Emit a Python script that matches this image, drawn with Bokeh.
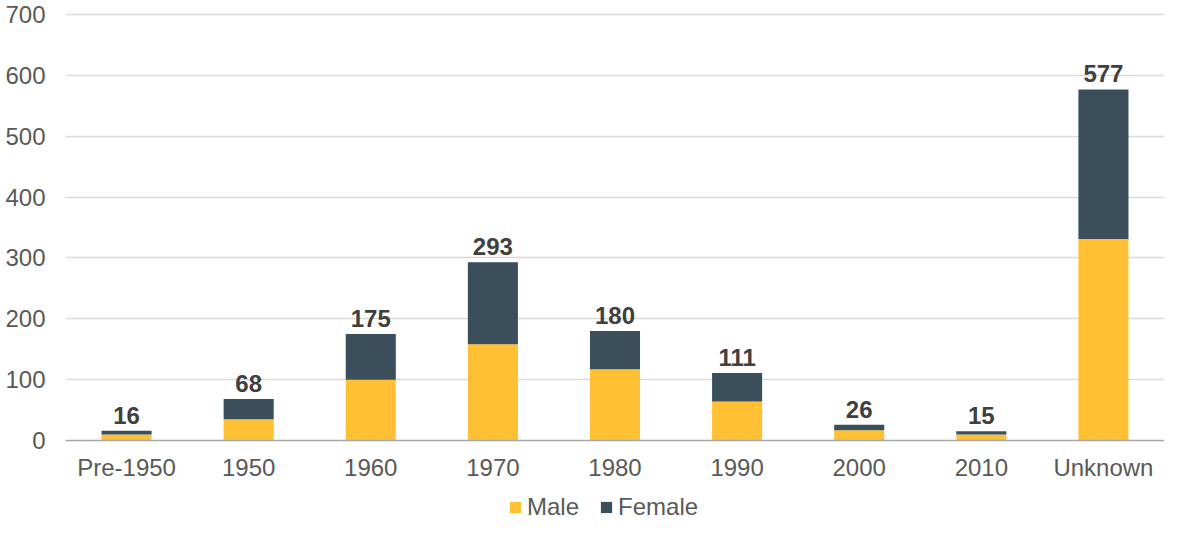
from bokeh.plotting import figure
from bokeh.layouts import column
from bokeh.models import (ColumnDataSource, FixedTicker, Legend, LegendItem,
                          Range1d, LabelSet, FactorRange)
from bokeh.core.properties import value
from bokeh.embed import file_html
from bokeh.resources import INLINE

categories = ["Pre-1950", "1950", "1960", "1970", "1980", "1990", "2000", "2010", "Unknown"]
male = [10, 35, 100, 158, 117, 64, 17, 10, 331]
female = [6, 33, 75, 135, 63, 47, 9, 5, 246]
totals = [16, 68, 175, 293, 180, 111, 26, 15, 577]
y_ticks = [0, 100, 200, 300, 400, 500, 600, 700]

YELLOW = "#FFC133"
DARK = "#3A4F5B"
FONT = "Liberation Sans"
GREY = "#595959"

src = ColumnDataSource(dict(cat=categories, Male=male, Female=female, total=totals))

p = figure(x_range=categories, width=1164, height=494, output_backend="svg",
           toolbar_location=None, min_border_left=65, min_border_right=0,
           min_border_top=11, min_border_bottom=54, outline_line_color=None)
p.y_range = Range1d(0, 705)
p.x_range.range_padding = 0

r = p.vbar_stack(["Male", "Female"], x="cat", width=0.41, source=src,
                 color=[YELLOW, DARK], line_color=None)

labels = LabelSet(x="cat", y="total", text="total", source=src, y_offset=7,
                  text_align="center", text_baseline="alphabetic",
                  text_font=value(FONT), text_font_style="bold",
                  text_font_size=value("24px"), text_color="#404040")
p.add_layout(labels)

p.xgrid.grid_line_color = None
p.ygrid.grid_line_color = "#D9D9D9"
p.ygrid.grid_line_width = 1.3
p.yaxis.ticker = FixedTicker(ticks=y_ticks)
p.ygrid.ticker = FixedTicker(ticks=y_ticks)

p.yaxis.axis_line_color = None
p.yaxis.major_tick_line_color = None
p.yaxis.minor_tick_line_color = None
p.yaxis.major_tick_out = 0
p.yaxis.major_tick_in = 0
p.yaxis.major_label_standoff = 20
p.yaxis.major_label_text_font = FONT
p.yaxis.major_label_text_font_size = "24px"
p.yaxis.major_label_text_color = GREY

p.xaxis.axis_line_color = "#A6A6A6"
p.xaxis.axis_line_width = 1.5
p.xaxis.major_tick_line_color = None
p.xaxis.major_tick_out = 0
p.xaxis.major_tick_in = 0
p.xaxis.major_label_standoff = 13
p.xaxis.major_label_text_font = FONT
p.xaxis.major_label_text_font_size = "24px"
p.xaxis.major_label_text_color = GREY

# legend strip below the chart (its bars lie outside its visible range)
lg = figure(width=1164, height=27, output_backend="svg", toolbar_location=None,
            x_axis_type=None, y_axis_type=None, min_border=0,
            outline_line_color=None, x_range=FactorRange(*categories),
            y_range=Range1d(1000, 1001))
lg.xgrid.grid_line_color = None
lg.ygrid.grid_line_color = None
rl = lg.vbar_stack(["Male", "Female"], x="cat", width=0.41, source=src,
                   color=[YELLOW, DARK], line_color=None)
legend = Legend(items=[LegendItem(label="Male", renderers=[rl[0]]),
                       LegendItem(label="Female", renderers=[rl[1]])],
                orientation="horizontal", location=(443, 0),
                glyph_width=14, glyph_height=14, label_standoff=5, spacing=20,
                padding=0, margin=0, border_line_color=None,
                background_fill_alpha=0,
                label_text_font=FONT, label_text_font_size="24px",
                label_text_color=GREY)
lg.add_layout(legend, "center")

layout = column(p, lg, spacing=0)
open("out.html", "w").write(file_html(layout, INLINE))
